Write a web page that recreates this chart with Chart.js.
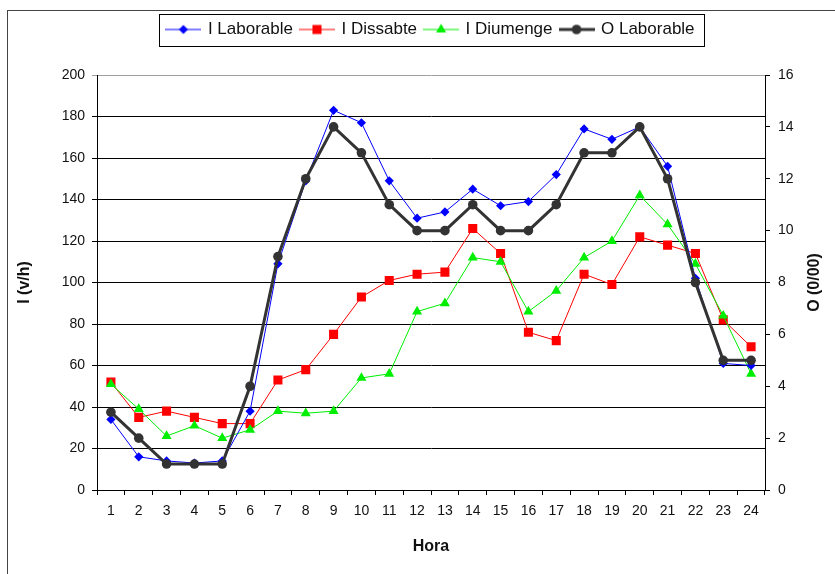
<!DOCTYPE html>
<html><head><meta charset="utf-8">
<script src="https://cdn.jsdelivr.net/npm/chart.js@4/dist/chart.umd.min.js"></script>
<style>html,body{margin:0;padding:0;background:#fff;}#wrap{width:835px;height:574px;}</style>
</head><body><div id="wrap"><canvas id="c" width="835" height="574"></canvas></div>
<script>
const hours = ['1','2','3','4','5','6','7','8','9','10','11','12','13','14','15','16','17','18','19','20','21','22','23','24'];
const iLaborable = [34,16,14,13,14,38,109,149,183,177,149,131,134,145,137,139,152,174,169,175,156,102,61,60];
const iDissabte  = [52,35,38,35,32,32,53,58,75,93,101,104,105,126,114,76,72,104,99,122,118,114,82,69];
const iDiumenge  = [51,39,26,31,25,29,38,37,38,54,56,86,90,112,110,86,96,112,120,142,128,109,84,56];
const oLaborable = [3,2,1,1,1,4,9,12,14,13,11,10,10,11,10,10,11,13,13,14,12,8,5,5];
const seriesNames = ['I Laborable','I Dissabte','I Diumenge','O Laborable'];
const leftAxis = {min:0, max:200, step:20, title:'I (v/h)'};
const rightAxis = {min:0, max:16, step:2, title:'O (0/00)'};
const xTitle = 'Hora';

const FONT = "'Liberation Sans', Arial, sans-serif";
const TXT = '#111';

function marker(g, style, cx, cy, r){
  g.beginPath();
  if (style === 'rectRot'){ g.moveTo(cx-r,cy); g.lineTo(cx,cy-r); g.lineTo(cx+r,cy); g.lineTo(cx,cy+r); g.closePath(); }
  else if (style === 'rect'){ const s = Math.SQRT1_2*r; g.rect(cx-s,cy-s,2*s,2*s); }
  else if (style === 'triangle'){ let a=0; g.moveTo(cx+Math.sin(a)*r, cy-Math.cos(a)*r); a+=2*Math.PI/3; g.lineTo(cx+Math.sin(a)*r, cy-Math.cos(a)*r); a+=2*Math.PI/3; g.lineTo(cx+Math.sin(a)*r, cy-Math.cos(a)*r); g.closePath(); }
  else { g.arc(cx,cy,r,0,Math.PI*2); }
  g.fill();
}
function sym(color, lw, style, r){
  const c = document.createElement('canvas'); c.width = 36; c.height = 16;
  const g = c.getContext('2d');
  g.strokeStyle = color; g.lineWidth = lw; g.beginPath(); g.moveTo(0,8); g.lineTo(36,8); g.stroke();
  g.fillStyle = color; marker(g, style, 18, 8, r);
  return c;
}
const styles = [
  {color:'#0000ff', lw:1, style:'rectRot', r:4.6},
  {color:'#ff0000', lw:1, style:'rect', r:6.4},
  {color:'#00ee00', lw:1, style:'triangle', r:5.8},
  {color:'#333333', lw:3, style:'circle', r:4.8}
];
const legendSyms = styles.map(s => sym(s.color, s.lw, s.style, s.r));

function ds(i, data, axis, order){
  const s = styles[i];
  return {label: seriesNames[i], data, yAxisID: axis, order,
    borderColor: s.color, backgroundColor: s.color, borderWidth: s.lw,
    pointStyle: s.style, pointRadius: s.r, pointBorderWidth: 0,
    pointBackgroundColor: s.color, pointBorderColor: s.color, tension: 0, fill: false};
}

const decor = {
  id: 'decor',
  beforeLayout(chart){
    const lg = chart.legend;
    if (lg && !lg._patched){ const orig = lg.fit; lg.fit = function(){ orig.call(this); this.height += 27; }; lg._patched = true; }
  },
  afterDraw(chart){
    const ctx = chart.ctx, a = chart.chartArea;
    ctx.save();
    ctx.strokeStyle = '#444'; ctx.lineWidth = 1;
    ctx.strokeRect(7.5, 10.5, 900, 700);
    const hb = chart.legend.legendHitBoxes;
    if (hb && hb.length){
      let l = Infinity, r = -Infinity, cy = 0;
      hb.forEach(b => { l = Math.min(l, b.left); r = Math.max(r, b.left + b.width); cy = b.top + b.height/2; });
      ctx.strokeStyle = '#000';
      ctx.strokeRect(Math.round(l - 8)+0.5, Math.round(cy - 16)+0.5, Math.round(r - l + 18), 32);
    }
    ctx.fillStyle = TXT; ctx.font = "bold 16px " + FONT;
    ctx.textAlign = 'center'; ctx.textBaseline = 'middle';
    ctx.translate(815, (a.top + a.bottom)/2); ctx.rotate(-Math.PI/2);
    ctx.fillText(rightAxis.title, 0, 0);
    ctx.restore();
  }
};

new Chart(document.getElementById('c'), {
  type: 'line',
  data: { labels: hours, datasets: [
    ds(0, iLaborable, 'y', 1),
    ds(1, iDissabte, 'y', 3),
    ds(2, iDiumenge, 'y', 2),
    ds(3, oLaborable, 'y1', 0)
  ]},
  options: {
    responsive: false, animation: false, devicePixelRatio: 1,
    layout: {padding: {top: 13, left: 0, right: 0, bottom: 0}},
    plugins: {
      tooltip: {enabled: false},
      legend: {
        position: 'top', fullSize: false,
        labels: {
          usePointStyle: true, pointStyleWidth: 32, padding: 8, color: TXT,
          font: {family: FONT, size: 17},
          sort: (a, b) => a.datasetIndex - b.datasetIndex,
          generateLabels(chart){
            const items = Chart.defaults.plugins.legend.labels.generateLabels(chart);
            items.forEach(it => { it.pointStyle = legendSyms[it.datasetIndex]; });
            return items;
          }
        }
      }
    },
    scales: {
      x: {
        offset: true,
        grid: {offset: true, drawOnChartArea: false, tickLength: 5, color: '#000'},
        border: {color: '#000'},
        ticks: {font: {family: FONT, size: 14}, color: TXT, padding: 8, maxRotation: 0, autoSkip: false},
        title: {display: true, text: xTitle, color: TXT, font: {family: FONT, size: 16, weight: 'bold'}, padding: {top: 0, bottom: 18}},
        afterFit(s){ s.height = 84; }
      },
      y: {
        position: 'left', min: leftAxis.min, max: leftAxis.max,
        ticks: {stepSize: leftAxis.step, font: {family: FONT, size: 14}, color: TXT, padding: 7},
        grid: {tickLength: 5, color: (c) => (c.tick && c.tick.value === leftAxis.max) ? '#a0a0a0' : '#000'},
        border: {color: '#000'},
        title: {display: true, text: leftAxis.title, color: TXT, font: {family: FONT, size: 16, weight: 'bold'}, padding: {top: 15, bottom: 0}},
        afterFit(s){ s.width = 97; }
      },
      y1: {
        position: 'right', min: rightAxis.min, max: rightAxis.max,
        ticks: {stepSize: rightAxis.step, font: {family: FONT, size: 14}, color: TXT, padding: 8},
        grid: {drawOnChartArea: false, tickLength: 5, color: '#000'},
        border: {color: '#000'},
        afterFit(s){ s.width = 70; }
      }
    }
  },
  plugins: [decor]
});
</script></body></html>
